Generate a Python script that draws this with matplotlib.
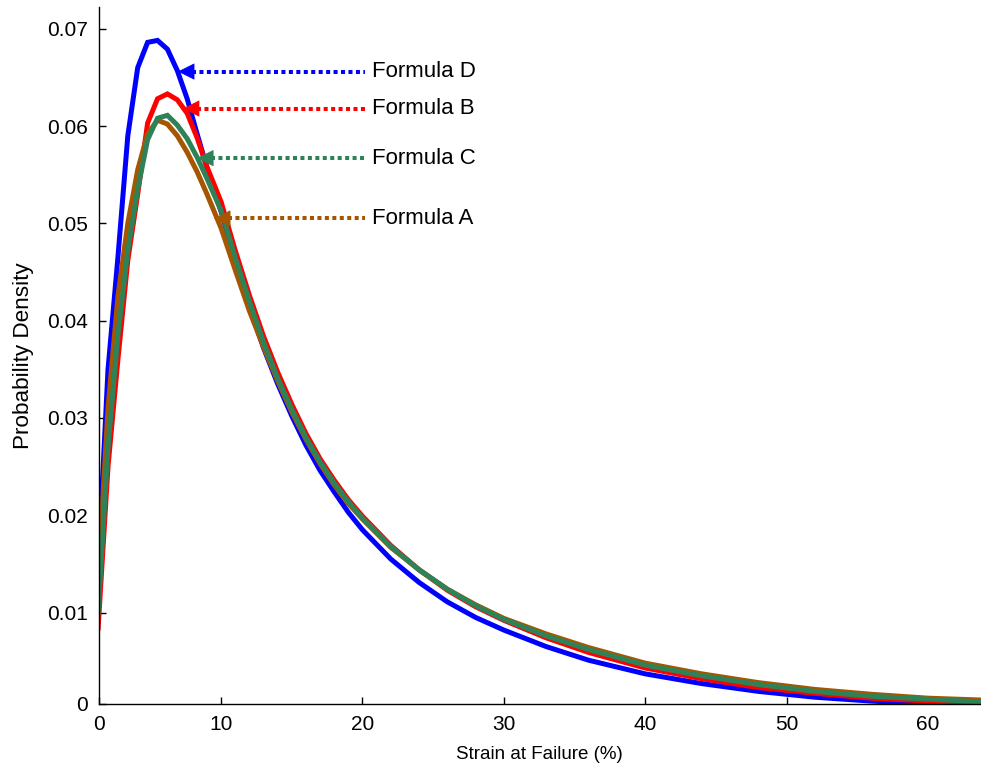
import matplotlib
matplotlib.use("Agg")
import matplotlib.pyplot as plt

plt.rcParams['font.family'] = ['Liberation Sans', 'DejaVu Sans']

# strain at failure (%) sample points
strain = [1.3, 2, 2.7, 3.4, 4.1, 4.8, 5.5, 6.2, 6.9, 7.6, 8.3, 9, 10, 11, 12, 13, 14,
          15, 16, 17, 18, 19, 20, 22, 24, 26, 28, 30, 33, 36, 40, 44, 48, 52, 56, 60, 64]

# probability density for each formula
formula_a = [0.0135, 0.031, 0.0425, 0.0500, 0.0555, 0.0592, 0.0606, 0.0602, 0.0590, 0.0573,
             0.0553, 0.0530, 0.0495, 0.0452, 0.0410, 0.0373, 0.0338, 0.0306, 0.0278, 0.0253,
             0.0231, 0.0212, 0.0196, 0.0167, 0.0144, 0.0124, 0.0108, 0.0094, 0.0078, 0.0064,
             0.0048, 0.0037, 0.0028, 0.0021, 0.0016, 0.0012, 0.0010]
formula_b = [0.0084, 0.025, 0.036, 0.0462, 0.0530, 0.0603, 0.0628, 0.0633, 0.0627, 0.0613,
             0.0588, 0.0558, 0.0522, 0.0472, 0.0426, 0.0384, 0.0347, 0.0314, 0.0284, 0.0258,
             0.0236, 0.0216, 0.0199, 0.0169, 0.0144, 0.0123, 0.0106, 0.0092, 0.0074, 0.0059,
             0.0043, 0.0032, 0.0023, 0.0017, 0.0012, 0.0009, 0.0007]
formula_c = [0.0100, 0.027, 0.0385, 0.0472, 0.0535, 0.0586, 0.0608, 0.0611, 0.0601, 0.0587,
             0.0568, 0.0546, 0.0513, 0.0465, 0.0420, 0.0378, 0.0341, 0.0309, 0.0280, 0.0255,
             0.0233, 0.0214, 0.0197, 0.0168, 0.0144, 0.0124, 0.0107, 0.0093, 0.0076, 0.0062,
             0.0046, 0.0035, 0.0026, 0.0019, 0.0014, 0.0011, 0.0008]
formula_d = [0.0146, 0.035, 0.0465, 0.0590, 0.0660, 0.0686, 0.0688, 0.0679, 0.0657, 0.0628,
             0.0592, 0.0557, 0.0512, 0.0462, 0.0414, 0.0372, 0.0335, 0.0302, 0.0272, 0.0246,
             0.0224, 0.0203, 0.0185, 0.0155, 0.0131, 0.0111, 0.0095, 0.0082, 0.0065, 0.0051,
             0.0037, 0.0027, 0.0019, 0.0013, 0.0009, 0.0006, 0.0004]

labels = ["Formula D", "Formula B", "Formula C", "Formula A"]
colors = {"Formula A": "#A65600", "Formula B": "#FF0000",
          "Formula C": "#2E8257", "Formula D": "#0000FF"}
# (arrow tip x, arrow y) for each label
arrow_tips = {"Formula D": (6.95, 0.0656), "Formula B": (7.3, 0.0618),
              "Formula C": (8.3, 0.0567), "Formula A": (9.5, 0.0505)}

fig = plt.figure(figsize=(9.81, 7.71), dpi=100)
ax = fig.add_axes([0.1006, 0.0875, 0.8994, 0.903])

series = [("Formula D", formula_d), ("Formula B", formula_b),
          ("Formula A", formula_a), ("Formula C", formula_c)]
for name, vals in series:
    ax.plot(strain, vals, color=colors[name], lw=3.6, solid_joinstyle='miter')

for name in labels:
    tx, ty = arrow_tips[name]
    c = colors[name]
    ax.plot([tx + 1.0, 20.2], [ty, ty], color=c, lw=2.9,
            dashes=(1, 0.85), dash_capstyle='butt')
    ax.annotate('', xy=(tx, ty), xytext=(tx + 1.1, ty),
                arrowprops=dict(arrowstyle='-|>,head_length=1.1,head_width=0.55',
                                color=c, lw=0.5, shrinkA=0, shrinkB=0))
    ax.text(20.65, ty, name, fontsize=16, va='center', ha='left')

x0, x1 = 1.34, 63.75
y0, y1 = 0.00065, 0.0722
ax.set_xlim(x0, x1)
ax.set_ylim(y0, y1)
ax.set_xticks([x0, 10, 20, 30, 40, 50, 60])
ax.set_xticklabels(["0", "10", "20", "30", "40", "50", "60"])
ax.set_yticks([y0, 0.01, 0.02, 0.03, 0.04, 0.05, 0.06, 0.07])
ax.set_yticklabels(["0", "0.01", "0.02", "0.03", "0.04", "0.05", "0.06", "0.07"])
ax.tick_params(direction='in', length=5, width=1, labelsize=15)
ax.tick_params(axis='x', pad=8)
ax.tick_params(axis='y', pad=8)
for s in ("top", "right"):
    ax.spines[s].set_visible(False)
ax.spines["left"].set_linewidth(1)
ax.spines["bottom"].set_linewidth(1)

ax.set_xlabel("Strain at Failure (%)", fontsize=13.5, labelpad=9)
ax.set_ylabel("Probability Density", fontsize=16.2, labelpad=9.5)

fig.savefig("out.png", dpi=100)
